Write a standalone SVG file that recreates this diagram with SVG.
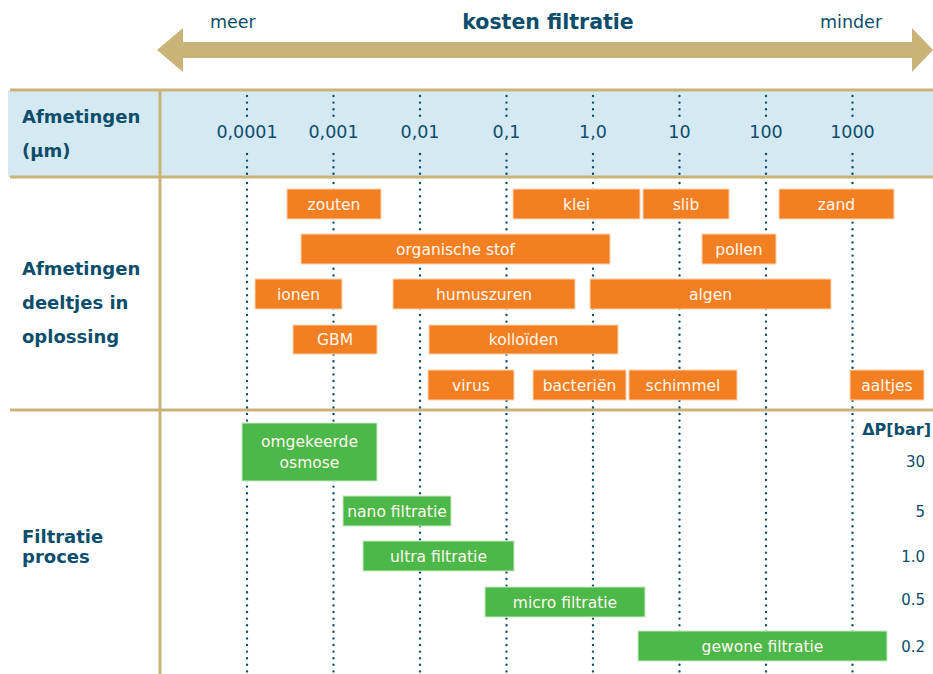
<svg xmlns="http://www.w3.org/2000/svg" width="933" height="674" viewBox="0 0 933 674">
<style>
.t{font-family:"DejaVu Sans","Noto Sans",sans-serif;fill:#0c4d6c}
.b{font-weight:bold}
.num{font-size:17.5px;text-anchor:middle}
.lbl{font-size:18px;font-weight:bold}
.bx{font-family:"DejaVu Sans","Noto Sans",sans-serif;font-size:15.5px;fill:#fff7ee;text-anchor:middle}
.or{fill:#f37f23;stroke:#fbd3b0;stroke-width:1}
.gr{fill:#4db84a;stroke:#c7eac4;stroke-width:1}
.dot{stroke:#0c4d6c;stroke-width:2.4;stroke-linecap:round;stroke-dasharray:0 6.6;fill:none}
.gold{stroke:#c9b376;stroke-width:3;fill:none}
.pr{font-size:15px;text-anchor:end}
</style>

<g id="cost-arrow">
<polygon points="157,50 183,28 183,42 912,42 912,28 933,50 912,72 912,58 183,58 183,72" fill="#c9b376"/>
<text class="t" x="210" y="28" font-size="17.5">meer</text>
<text class="t b" x="548" y="29" font-size="20.5" text-anchor="middle">kosten filtratie</text>
<text class="t" x="820" y="28" font-size="17.5">minder</text>
</g>

<g id="header-band">
<rect x="8" y="90" width="925" height="87" fill="#d5e9f3"/>
<text class="t lbl" x="22" y="123">Afmetingen</text>
<text class="t lbl" x="22" y="157">(µm)</text>
</g>

<g id="grid">
<line class="gold" x1="10" y1="90" x2="933" y2="90"/>
<line class="gold" x1="10" y1="177" x2="933" y2="177"/>
<line class="gold" x1="10" y1="410" x2="933" y2="410"/>
<line class="gold" x1="160" y1="90" x2="160" y2="674"/>
</g>

<g id="connectors">
<g id="dots-header">
<path class="dot" d="M247,96V116M333.5,96V116M420,96V116M506.5,96V116M593,96V116M679.5,96V116M766,96V116M852.5,96V116"/>
<path class="dot" d="M247,154V175M333.5,154V175M420,154V175M506.5,154V175M593,154V175M679.5,154V175M766,154V175M852.5,154V175"/>
</g>
<path class="dot" d="M247,183V674M333.5,183V674M420,183V674M506.5,183V674M593,183V674M679.5,183V674M766,183V674M852.5,183V674"/>
</g>

<g id="scale-labels">
<text class="t num" x="247" y="138">0,0001</text>
<text class="t num" x="333.5" y="138">0,001</text>
<text class="t num" x="420" y="138">0,01</text>
<text class="t num" x="506.5" y="138">0,1</text>
<text class="t num" x="593" y="138">1,0</text>
<text class="t num" x="679.5" y="138">10</text>
<text class="t num" x="766" y="138">100</text>
<text class="t num" x="852.5" y="138">1000</text>
</g>

<g id="row-labels">
<text class="t lbl" x="22" y="275">Afmetingen</text>
<text class="t lbl" x="22" y="309">deeltjes in</text>
<text class="t lbl" x="22" y="343">oplossing</text>
<text class="t lbl" x="22" y="543">Filtratie</text>
<text class="t lbl" x="22" y="563">proces</text>
</g>

<g id="zouten"><rect class="or" x="287" y="189" width="94" height="30"/><text class="bx" x="334" y="209.5">zouten</text></g>
<g id="klei"><rect class="or" x="513" y="189" width="127" height="30"/><text class="bx" x="576.5" y="209.5">klei</text></g>
<g id="slib"><rect class="or" x="643" y="189" width="86" height="30"/><text class="bx" x="686" y="209.5">slib</text></g>
<g id="zand"><rect class="or" x="779" y="189" width="115" height="30"/><text class="bx" x="836.5" y="209.5">zand</text></g>
<g id="organische-stof"><rect class="or" x="301" y="234" width="309" height="30"/><text class="bx" x="455.5" y="254.5">organische stof</text></g>
<g id="pollen"><rect class="or" x="702" y="234" width="74" height="30"/><text class="bx" x="739" y="254.5">pollen</text></g>
<g id="ionen"><rect class="or" x="255" y="279" width="87" height="30"/><text class="bx" x="298.5" y="299.5">ionen</text></g>
<g id="humuszuren"><rect class="or" x="393" y="279" width="182" height="30"/><text class="bx" x="484" y="299.5">humuszuren</text></g>
<g id="algen"><rect class="or" x="590" y="279" width="241" height="30"/><text class="bx" x="710.5" y="299.5">algen</text></g>
<g id="GBM"><rect class="or" x="293" y="325" width="84" height="29"/><text class="bx" x="335" y="345">GBM</text></g>
<g id="kolloiden"><rect class="or" x="429" y="325" width="189" height="29"/><text class="bx" x="523.5" y="345">kolloïden</text></g>
<g id="virus"><rect class="or" x="428" y="370" width="86" height="30"/><text class="bx" x="471" y="390.5">virus</text></g>
<g id="bacterien"><rect class="or" x="533" y="370" width="93" height="30"/><text class="bx" x="579.5" y="390.5">bacteriën</text></g>
<g id="schimmel"><rect class="or" x="629" y="370" width="108" height="30"/><text class="bx" x="683" y="390.5">schimmel</text></g>
<g id="aaltjes"><rect class="or" x="850" y="370" width="74" height="30"/><text class="bx" x="887" y="390.5">aaltjes</text></g>

<g id="omgekeerde-osmose"><rect class="gr" x="242" y="423" width="135" height="58"/><text class="bx" x="309.5" y="447">omgekeerde</text><text class="bx" x="309.5" y="468">osmose</text></g>
<g id="nano-filtratie"><rect class="gr" x="343" y="496" width="108" height="30"/><text class="bx" x="397" y="516.5">nano filtratie</text></g>
<g id="ultra-filtratie"><rect class="gr" x="363" y="541" width="151" height="30"/><text class="bx" x="438.5" y="561.5">ultra filtratie</text></g>
<g id="micro-filtratie"><rect class="gr" x="485" y="587" width="160" height="30"/><text class="bx" x="565" y="607.5">micro filtratie</text></g>
<g id="gewone-filtratie"><rect class="gr" x="638" y="631" width="249" height="30"/><text class="bx" x="762.5" y="651.5">gewone filtratie</text></g>

<g id="pressure">
<text class="t b" x="931" y="435" font-size="16" text-anchor="end">ΔP[bar]</text>
<text class="t pr" x="925" y="467">30</text>
<text class="t pr" x="925" y="517">5</text>
<text class="t pr" x="925" y="562">1.0</text>
<text class="t pr" x="925" y="605">0.5</text>
<text class="t pr" x="925" y="652">0.2</text>
</g>
</svg>
